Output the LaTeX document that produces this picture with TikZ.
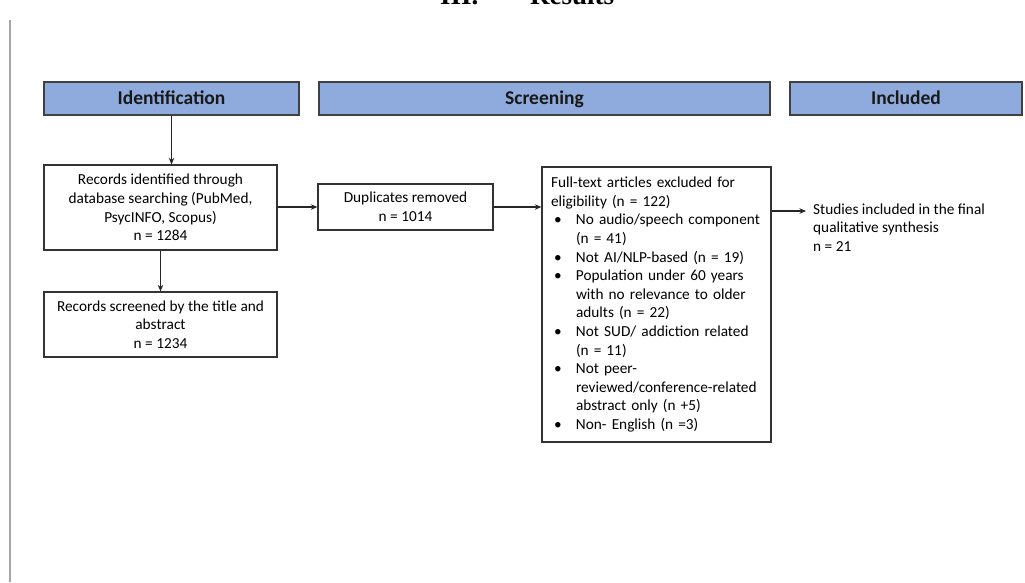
\documentclass[tikz,border=0pt]{standalone}
\usepackage{fontspec}
\setmainfont{Carlito}
\newfontfamily\titlefont{Liberation Serif}
\usetikzlibrary{arrows.meta,calc}
\begin{document}
\begin{tikzpicture}[x=1pt,y=-1pt,
  hdr/.style={draw=black!75,line width=1.3pt,fill=hdrblue,minimum height=33pt,inner sep=0pt,
    text height=15pt,text depth=3pt,
    font=\fontsize{19.5}{22}\selectfont\bfseries,text=black!90},
  box/.style={draw=black!80,line width=1.3pt,inner sep=0pt,align=center,
    font=\fontsize{15.3}{18.6}\selectfont,text=black},
  plain/.style={inner sep=0pt,align=left,font=\fontsize{15.3}{18.6}\selectfont,text=black},
  arr/.style={draw=black!85,line width=1.2pt,-{Stealth[length=6.5pt,width=5.5pt]}}]
\definecolor{hdrblue}{RGB}{143,170,220}
\useasboundingbox (0,0) rectangle (1025,582);
% title (cut off at top)
\node[inner sep=0pt,anchor=base west,font=\titlefont\fontsize{27}{30}\selectfont\bfseries] (title) at (440,4.5) {\makebox[90pt][l]{III.}Results};
% left margin line
\coordinate (lt) at (10,20);
\coordinate (lb) at (10,582);
\draw[black!35,line width=1.2pt] (lt) -- (lb);
% headers
\node[hdr,minimum width=255pt] (ident) at (171.5,98.5) {Identification};
\node[hdr,minimum width=451pt] (screen) at (544.5,98.5) {Screening};
\node[hdr,minimum width=232pt] (incl) at (906,98.5) {Included};
% boxes
\node[box,minimum width=233pt,minimum height=85pt] (rec) at (160.5,207.5)
  {Records identified through\\database searching (PubMed,\\PsycINFO, Scopus)\\n = 1284};
\node[box,minimum width=233pt,minimum height=65pt] (scr) at (160.5,324.5)
  {Records screened by the title and\\abstract\\n = 1234};
\node[box,minimum width=175pt,minimum height=46pt] (dup) at (405.5,207)
  {Duplicates removed\\n = 1014};
\node[box,minimum width=229pt,minimum height=275pt,align=left,text width=211pt] (ft) at (656.5,304.5)
  {Full-text articles excluded for\\
   eligibility (n = 122)\\
   \makebox[25pt][l]{\hspace{3pt}•}No audio/speech component\\
   \hspace*{25pt}(n = 41)\\
   \makebox[25pt][l]{\hspace{3pt}•}Not AI/NLP-based (n = 19)\\
   \makebox[25pt][l]{\hspace{3pt}•}Population under 60 years\\
   \hspace*{25pt}with no relevance to older\\
   \hspace*{25pt}adults (n = 22)\\
   \makebox[25pt][l]{\hspace{3pt}•}Not SUD/ addiction related\\
   \hspace*{25pt}(n = 11)\\
   \makebox[25pt][l]{\hspace{3pt}•}Not peer-\\
   \hspace*{25pt}reviewed/conference-related\\
   \hspace*{25pt}abstract only (n +5)\\
   \makebox[25pt][l]{\hspace{3pt}•}Non- English (n =3)};
\node[plain,anchor=west] (stud) at (813,227.5)
  {Studies included in the final\\qualitative synthesis\\n = 21};
% connectors
\draw[arr] (ident.south) -- (ident.south |- rec.north);
\draw[arr] (rec.south) -- (scr.north);
\draw[arr] (rec.east |- dup.west) -- (dup.west);
\draw[arr] (dup.east) -- (dup.east -| ft.west);
\coordinate (sa) at (806,211);
\draw[arr] (ft.east |- sa) -- (sa);
\end{tikzpicture}
\end{document}
